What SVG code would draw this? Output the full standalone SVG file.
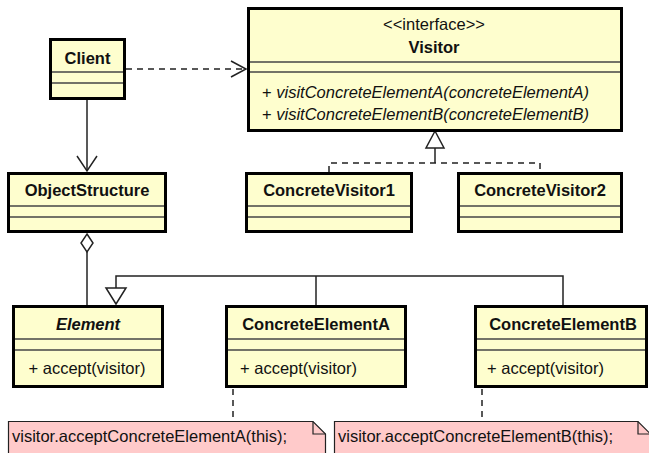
<svg xmlns="http://www.w3.org/2000/svg" width="649" height="453" viewBox="0 0 649 453">
<style>
.box{fill:#FEFECE;stroke:#000;stroke-width:3}
.sep{stroke:#444;stroke-width:1.5}
.note{fill:#FFCACA;stroke:#222;stroke-width:1.2}
.fold{fill:none;stroke:#222;stroke-width:1.2}
.t{font-family:"Liberation Sans",Arial,sans-serif;font-size:16.5px;fill:#111}
.b{font-weight:bold}
.c{text-anchor:middle}
.i{font-style:italic}
.ln{fill:none;stroke:#222;stroke-width:1.5}
.dash{stroke-dasharray:6,5}
.hd{fill:#fff;stroke:#222;stroke-width:1.5}
</style>
<rect width="649" height="453" fill="#fff"/>
<g id="connectors">
  <!-- Client to Visitor dependency -->
  <line class="ln dash" x1="126" y1="69" x2="245" y2="69"/>
  <polyline class="ln" points="231,61 246,69 231,77"/>
  <!-- Client to ObjectStructure association -->
  <line class="ln" x1="87" y1="100" x2="87" y2="171"/>
  <polyline class="ln" points="77,156 87,171 97,156"/>
  <!-- Realization to Visitor -->
  <line class="ln" x1="435" y1="148" x2="435" y2="163"/>
  <polyline class="ln dash" points="329,172 329,163 540,163 540,172"/>
  <polygon class="hd" points="435,131 426,148 444,148"/>
  <!-- Aggregation -->
  <line class="ln" x1="87" y1="252" x2="87" y2="305"/>
  <polygon class="hd" points="87,234 93,243 87,252 81,243"/>
  <!-- Generalization to Element -->
  <polyline class="ln" points="116,288 116,276 563,276 563,305"/>
  <line class="ln" x1="316" y1="276" x2="316" y2="305"/>
  <polygon class="hd" points="116,304 106,288 126,288"/>
  <!-- Note anchors -->
  <line class="ln" x1="233" y1="367" x2="233" y2="378"/>
  <line class="ln dash" x1="233" y1="389" x2="233" y2="421"/>
  <circle cx="233" cy="367" r="2.6" fill="#111"/>
  <line class="ln" x1="482" y1="367" x2="482" y2="378"/>
  <line class="ln dash" x1="482" y1="389" x2="482" y2="421"/>
  <circle cx="482" cy="367" r="2.6" fill="#111"/>
</g>
<g id="Client">
  <rect class="box" x="50.5" y="39.5" width="74" height="59"/>
  <line class="sep" x1="52" y1="72" x2="123" y2="72"/>
  <line class="sep" x1="52" y1="83" x2="123" y2="83"/>
  <text class="t b c" x="87.5" y="64">Client</text>
</g>
<g id="Visitor">
  <rect class="box" x="248.5" y="8.5" width="373" height="122"/>
  <line class="sep" x1="250" y1="62" x2="620" y2="62"/>
  <line class="sep" x1="250" y1="72" x2="620" y2="72"/>
  <text class="t c" x="434" y="30">&lt;&lt;interface&gt;&gt;</text>
  <text class="t b c" x="434" y="53">Visitor</text>
  <text class="t" x="262" y="98">+ <tspan class="i">visitConcreteElementA(concreteElementA)</tspan></text>
  <text class="t" x="262" y="120">+ <tspan class="i">visitConcreteElementB(concreteElementB)</tspan></text>
</g>
<g id="ConcreteVisitor1">
  <rect class="box" x="246.5" y="173.5" width="165" height="58"/>
  <line class="sep" x1="248" y1="206" x2="410" y2="206"/>
  <line class="sep" x1="248" y1="217" x2="410" y2="217"/>
  <text class="t b c" x="329" y="196">ConcreteVisitor1</text>
</g>
<g id="ConcreteVisitor2">
  <rect class="box" x="458.5" y="173.5" width="163" height="58"/>
  <line class="sep" x1="460" y1="206" x2="620" y2="206"/>
  <line class="sep" x1="460" y1="217" x2="620" y2="217"/>
  <text class="t b c" x="540" y="196">ConcreteVisitor2</text>
</g>
<g id="ObjectStructure">
  <rect class="box" x="8.5" y="173.5" width="157" height="58"/>
  <line class="sep" x1="10" y1="206" x2="164" y2="206"/>
  <line class="sep" x1="10" y1="217" x2="164" y2="217"/>
  <text class="t b c" x="87" y="196">ObjectStructure</text>
</g>
<g id="Element">
  <rect class="box" x="13.5" y="306.5" width="149" height="80"/>
  <line class="sep" x1="15" y1="339" x2="161" y2="339"/>
  <line class="sep" x1="15" y1="350" x2="161" y2="350"/>
  <text class="t b i c" x="88" y="330">Element</text>
  <text class="t c" x="87" y="374">+ accept(visitor)</text>
</g>
<g id="ConcreteElementA">
  <rect class="box" x="226.5" y="306.5" width="179" height="80"/>
  <line class="sep" x1="228" y1="339" x2="404" y2="339"/>
  <line class="sep" x1="228" y1="350" x2="404" y2="350"/>
  <text class="t b c" x="316" y="330">ConcreteElementA</text>
  <text class="t" x="240" y="374">+ accept(visitor)</text>
</g>
<g id="ConcreteElementB">
  <rect class="box" x="475.5" y="306.5" width="171" height="80"/>
  <line class="sep" x1="477" y1="339" x2="645" y2="339"/>
  <line class="sep" x1="477" y1="350" x2="645" y2="350"/>
  <text class="t b c" x="563" y="330">ConcreteElementB</text>
  <text class="t" x="487" y="374">+ accept(visitor)</text>
</g>
<g id="NoteA">
  <path class="note" d="M8.5,421.5 L313,421.5 L325.5,434 L325.5,460 L8.5,460 Z"/>
  <path class="fold" d="M313,421.5 L313,434 L325.5,434"/>
  <text class="t" x="12" y="442">visitor.acceptConcreteElementA(this);</text>
</g>
<g id="NoteB">
  <path class="note" d="M334.5,421.5 L638,421.5 L650.5,434 L650.5,460 L334.5,460 Z"/>
  <path class="fold" d="M638,421.5 L638,434 L650.5,434"/>
  <text class="t" x="338" y="442">visitor.acceptConcreteElementB(this);</text>
</g>
</svg>
